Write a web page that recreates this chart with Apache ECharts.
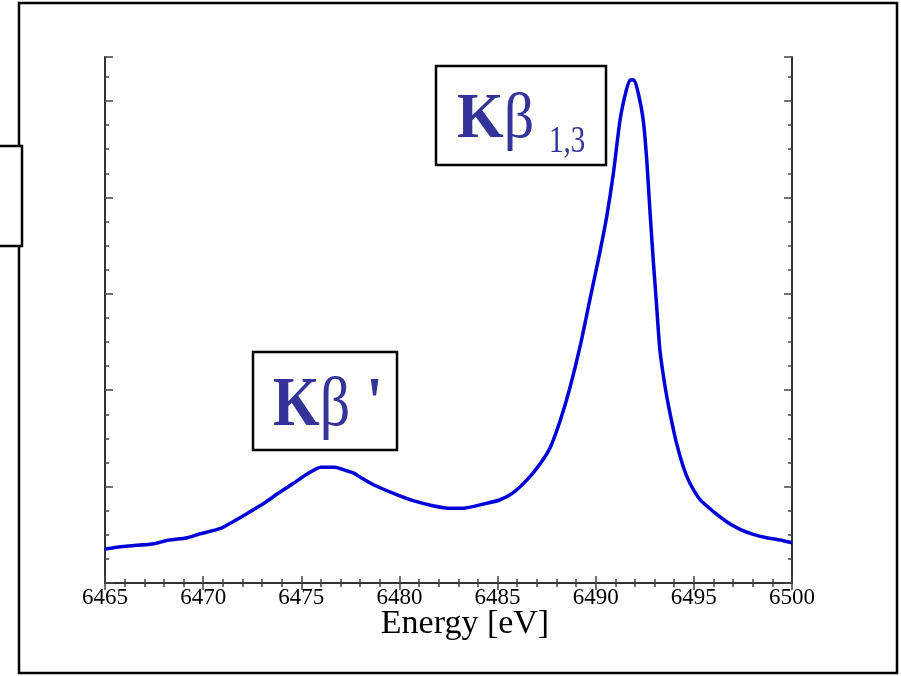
<!DOCTYPE html>
<html>
<head>
<meta charset="utf-8">
<script src="https://cdn.jsdelivr.net/npm/echarts@6/dist/echarts.min.js"></script>
<style>
html,body{margin:0;padding:0;background:#fff;}
#chart{width:901px;height:676px;}
</style>
</head>
<body>
<div id="chart"></div>
<script>
// Energy axis values [eV]
const energy = [6465.0,6465.8,6466.4,6467.5,6468.1,6469.2,6469.8,6470.9,6471.5,6472.2,6473.1,6473.9,6474.6,6475.3,6476.0,6476.7,6477.3,6477.7,6477.9,6478.7,6479.7,6480.7,6481.7,6482.6,6483.25,6484.3,6485.1,6485.8,6486.65,6487.3,6487.7,6488.2,6488.7,6489.2,6489.7,6490.2,6490.56,6490.9,6491.24,6491.54,6491.75,6491.95,6492.17,6492.42,6492.6,6492.76,6492.93,6493.1,6493.27,6493.52,6493.75,6494.1,6494.46,6494.8,6495.33,6496.0,6496.67,6497.35,6498.03,6498.71,6499.39,6500.0];
// Intensity (arbitrary units)
const intensity = [0.353,0.377,0.387,0.408,0.439,0.470,0.508,0.567,0.633,0.716,0.827,0.941,1.034,1.131,1.200,1.200,1.165,1.138,1.110,1.017,0.930,0.854,0.802,0.775,0.775,0.820,0.861,0.937,1.103,1.276,1.414,1.691,2.036,2.451,2.936,3.420,3.800,4.250,4.803,5.097,5.218,5.218,5.080,4.803,4.388,3.869,3.351,2.884,2.417,2.054,1.795,1.463,1.206,1.034,0.861,0.740,0.636,0.557,0.505,0.470,0.446,0.418];
const xTicks = {min: 6465, max: 6500, step: 5};
const xTitle = 'Energy [eV]';
const peakLabels = ['K', '\u03b2', "'", '1,3'];

const data = energy.map((e, i) => [e, intensity[i]]);
const yMax = 5.456;
const axisColor = '#333';
const tickColor = '#444';
const serif = '"Liberation Serif", "DejaVu Serif", serif';
const labelColor = '#333399';

function tickAxis(pos, interval, len, showLine) {
  return {
    type: 'value', position: pos, min: 0, max: yMax, interval: interval,
    axisLine: {show: showLine, lineStyle: {color: axisColor, width: 2}},
    axisTick: {show: true, inside: true, length: len, lineStyle: {color: tickColor, width: 1.5}},
    axisLabel: {show: false}, splitLine: {show: false}
  };
}

const chart = echarts.init(document.getElementById('chart'));
chart.setOption({
  animation: false,
  backgroundColor: '#fff',
  grid: {left: 105, right: 109, top: 57, bottom: 93, containLabel: false},
  xAxis: [{
    type: 'value', position: 'bottom', min: xTicks.min, max: xTicks.max, interval: xTicks.step,
    axisLine: {lineStyle: {color: axisColor, width: 2}},
    axisTick: {inside: true, length: 7, lineStyle: {color: tickColor, width: 1.5}},
    minorTick: {show: true, splitNumber: 5, length: 4, lineStyle: {color: tickColor, width: 1.5}},
    axisLabel: {color: '#000', fontFamily: serif, fontSize: 23, margin: 3, formatter: v => String(v)},
    splitLine: {show: false},
    name: xTitle, nameLocation: 'middle', nameGap: 24, nameMoveOverlap: false,
    nameTextStyle: {color: '#000', fontFamily: serif, fontSize: 34, lineHeight: 34, padding: [0, 0, 0, 33]}
  }, {
    type: 'value', position: 'top', min: xTicks.min, max: xTicks.max, interval: xTicks.step,
    axisLine: {lineStyle: {color: axisColor, width: 2}},
    axisTick: {inside: true, length: 7, lineStyle: {color: tickColor, width: 1.5}},
    minorTick: {show: true, splitNumber: 5, length: 4, lineStyle: {color: tickColor, width: 1.5}},
    axisLabel: {show: false}, splitLine: {show: false}
  }],
  yAxis: [
    tickAxis('left', 1, 8, true),
    tickAxis('left', 0.25, 4, false),
    tickAxis('right', 1, 8, true),
    tickAxis('right', 0.25, 4, false)
  ],
  series: [{
    type: 'line', xAxisIndex: 0, yAxisIndex: 0, data: data,
    showSymbol: false, smooth: 0.2,
    lineStyle: {color: '#0000d8', width: 3.5}
  }],
  graphic: [
    {type: 'rect', shape: {x: 19, y: 3, width: 878, height: 670}, style: {fill: 'none', stroke: '#000', lineWidth: 2.5}, z: 0},
    {type: 'rect', shape: {x: -5, y: 146, width: 27, height: 100}, style: {fill: '#fff', stroke: '#000', lineWidth: 2.5}, z: 1},
    {type: 'rect', shape: {x: 253, y: 352, width: 144, height: 98}, style: {fill: '#fff', stroke: '#000', lineWidth: 2.5}, z: 10},
    {type: 'text', x: 273, y: 407, scaleY: 1.15, z: 11, style: {
      text: '{k|' + peakLabels[0] + '}{b|' + peakLabels[1] + '}{p|' + peakLabels[2] + '}', verticalAlign: 'middle',
      rich: {
        k: {font: 'bold 60px ' + serif, fill: labelColor},
        b: {font: '60px ' + serif, fill: labelColor},
        p: {font: 'bold 60px ' + serif, fill: labelColor, padding: [0, 0, 0, 16]}
      }
    }},
    {type: 'rect', shape: {x: 436, y: 66, width: 170, height: 99}, style: {fill: '#fff', stroke: '#000', lineWidth: 2.5}, z: 10},
    {type: 'text', x: 457, y: 120, scaleY: 1.07, z: 11, style: {
      text: '{k|' + peakLabels[0] + '}{b|' + peakLabels[1] + '}', verticalAlign: 'middle',
      rich: {k: {font: 'bold 60px ' + serif, fill: labelColor}, b: {font: '60px ' + serif, fill: labelColor}}
    }},
    {type: 'text', x: 549, y: 142, scaleY: 1.3, z: 11, style: {
      text: peakLabels[3], verticalAlign: 'middle', font: '29px ' + serif, fill: labelColor
    }}
  ]
});
</script>
</body>
</html>
